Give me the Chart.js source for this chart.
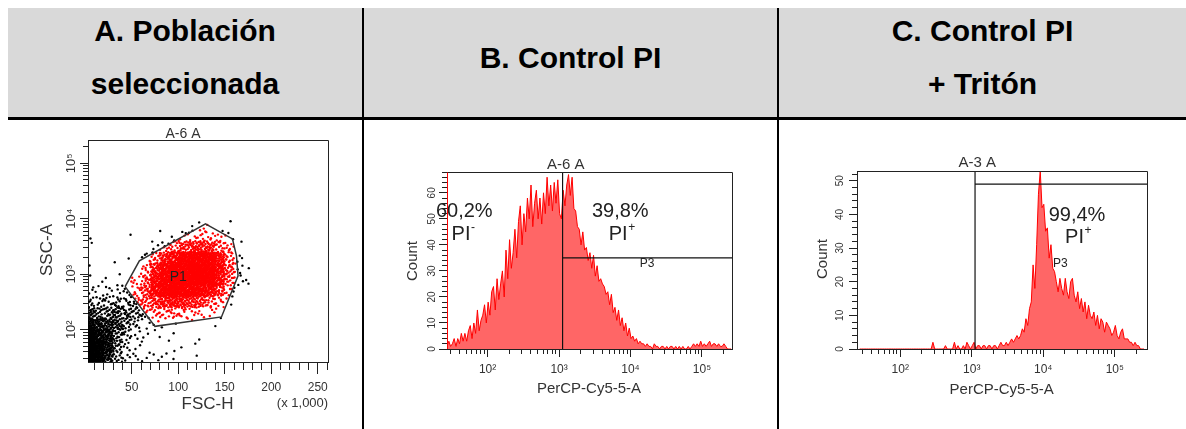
<!DOCTYPE html>
<html lang="es">
<head>
<meta charset="utf-8">
<title>Población seleccionada y control PI</title>
<script src="https://cdn.jsdelivr.net/npm/chart.js"></script>
<style>
  body { margin: 0; background: #fff; font-family: "Liberation Sans", Arial, sans-serif; }
  #page { position: relative; width: 1186px; height: 429px; overflow: hidden; }
  .head { position: absolute; left: 8px; top: 8px; width: 1178px; height: 109px; background: #d9d9d9; }
  .rule { position: absolute; left: 8px; top: 117px; width: 1178px; height: 3px; background: #000; }
  .sep { position: absolute; top: 8px; width: 2px; height: 421px; background: #000; }
  .cap { position: absolute; font-weight: bold; font-size: 30px; line-height: 53px; text-align: center; color: #000; }
  canvas { position: absolute; }
</style>
</head>
<body>
<div id="page">
  <div class="head"></div>
  <div class="rule"></div>
  <div class="sep" style="left:362px"></div>
  <div class="sep" style="left:777px"></div>
  <div class="cap" style="left:8px;width:354px;top:4px">A. Población<br>seleccionada</div>
  <div class="cap" style="left:364px;width:413px;top:31px">B. Control PI</div>
  <div class="cap" style="left:779px;width:407px;top:4px">C. Control PI<br>+ Tritón</div>
  <canvas id="dotPlot" width="310" height="300" style="left:30px;top:122px"></canvas>
  <canvas id="histB" width="345" height="250" style="left:400px;top:150px"></canvas>
  <canvas id="histC" width="350" height="250" style="left:810px;top:150px"></canvas>
</div>
<script>
const FONT = '"Liberation Sans", Arial, Helvetica, sans-serif';
Chart.defaults.font.family = FONT;

// axis labels
const decades = [2, 3, 4, 5];
const fscLabels = [50, 100, 150, 200, 250];
const countLabelsB = [0, 10, 20, 30, 40, 50, 60];
const countLabelsC = [0, 10, 20, 30, 40, 50];

// dot plot: events counted per cell, FSC-H columns (x1000) by SSC-A rows (log10 lower edge)
const fscBins = [0, 10, 20, 30, 40, 50, 60, 70, 80, 90, 100, 110, 120, 130, 140, 150, 160, 170];
const sscRows = [3.8, 3.6, 3.4, 3.2, 3.0, 2.8, 2.6, 2.4, 2.2, 2.0, 1.8, 1.6, 1.4];
const eventGrid = [
  [0, 0, 0, 0, 0, 0, 0, 0, 0, 0, 0, 1, 2, 1, 0, 1, 0, 0],
  [1, 0, 0, 0, 1, 0, 0, 0, 1, 2, 4, 6, 7, 6, 4, 3, 0, 0],
  [1, 0, 0, 0, 0, 0, 0, 3, 7, 13, 20, 25, 26, 22, 14, 7, 1, 0],
  [0, 0, 0, 1, 1, 0, 4, 12, 30, 45, 60, 66, 64, 56, 36, 14, 3, 0],
  [1, 0, 0, 0, 0, 0, 9, 30, 55, 75, 85, 88, 82, 68, 42, 17, 5, 1],
  [1, 1, 1, 2, 1, 5, 15, 40, 65, 82, 88, 85, 76, 62, 40, 15, 4, 2],
  [3, 3, 4, 4, 4, 8, 20, 42, 60, 72, 72, 64, 52, 40, 22, 7, 1, 0],
  [8, 7, 9, 10, 9, 12, 15, 22, 30, 34, 30, 25, 19, 14, 7, 2, 0, 0],
  [18, 15, 17, 19, 16, 12, 8, 8, 10, 10, 8, 6, 4, 3, 2, 0, 0, 0],
  [36, 33, 30, 22, 14, 6, 3, 2, 1, 1, 0, 1, 0, 1, 0, 0, 0, 0],
  [66, 55, 38, 18, 8, 3, 2, 1, 2, 1, 0, 0, 1, 0, 0, 0, 0, 0],
  [95, 72, 40, 15, 5, 2, 1, 0, 0, 1, 1, 1, 0, 0, 0, 0, 0, 0],
  [90, 66, 30, 10, 4, 3, 3, 2, 2, 1, 0, 1, 0, 0, 0, 0, 0, 0]
];
// P1 gate vertices
const gateFsc = [42.9, 58.2, 129.3, 158.3, 162.6, 164.3, 146.5, 75.0];
const gateSsc = [597, 1746, 8110, 4330, 2150, 933, 170, 115];

// histograms: counts in 0.025-decade bins starting at 10^1.42
const binStart = 1.42, binStep = 0.025;
const countsB = [
  1, 3, 1, 2, 4, 1, 4, 2, 6, 3,
  6, 3, 7, 9, 4, 10, 6, 15, 7, 11,
  13, 17, 10, 18, 13, 22, 24, 15, 27, 19,
  25, 30, 20, 38, 27, 42, 31, 37, 46, 35,
  49, 55, 40, 52, 45, 58, 50, 63, 47, 56,
  61, 50, 58, 48, 60, 52, 66, 55, 63, 53,
  64, 56, 65, 52, 50, 61, 55, 63, 67, 59,
  66, 54, 53, 47, 46, 40, 45, 38, 39, 34,
  37, 31, 36, 28, 32, 26, 27, 25, 24, 21,
  22, 17, 21, 14, 16, 11, 15, 9, 12, 7,
  10, 5, 8, 4, 5, 3, 4, 2, 3, 2,
  2, 1, 2, 1, 1, 0, 2, 1, 1, 0,
  1, 1, 0, 1, 0, 1, 1, 0, 1, 0,
  1, 0, 1, 0, 0, 1, 0, 1, 2, 1,
  2, 1, 3, 1, 2, 1, 2, 3, 1, 2,
  2, 1, 2, 1, 1, 2, 1, 0, 0, 0
];
const countsC = [
  0, 0, 0, 0, 0, 0, 0, 0, 0, 0,
  0, 0, 0, 0, 0, 0, 0, 0, 0, 0,
  0, 0, 0, 0, 0, 0, 0, 0, 0, 0,
  0, 0, 0, 0, 0, 0, 0, 0, 0, 0,
  0, 2, 0, 0, 0, 0, 0, 0, 1, 0,
  0, 0, 0, 2, 0, 1, 0, 0, 1, 0,
  2, 1, 0, 1, 2, 0, 1, 1, 0, 1,
  1, 0, 1, 1, 0, 1, 1, 0, 1, 2,
  1, 1, 2, 1, 2, 3, 2, 3, 4, 3,
  4, 6, 5, 9, 7, 12, 14, 25, 18, 31,
  46, 53, 42, 43, 35, 36, 27, 31, 24, 23,
  20, 17, 21, 18, 16, 21, 17, 15, 20, 21,
  16, 14, 17, 12, 15, 11, 14, 9, 13, 10,
  9, 11, 7, 10, 6, 9, 8, 5, 8, 7,
  6, 4, 5, 7, 4, 3, 5, 6, 3, 3,
  3, 2, 2, 1, 2, 1, 1, 0, 0, 0
];
const gateB = [1120, 35];   // marker position, P3 level
const gateC = [1112, 49];
const p3LabelB = [17100, 32.7];
const p3LabelC = [17300, 25.5];
const percentB = [60.2, 39.8];
const percentC = [99.4];

const SUP = { 2: '\u00b2', 3: '\u00b3', 4: '\u2074', 5: '\u2075' };
const INK = '#222';

function logTicks(min, max) {
  const out = [];
  for (let e = 1; e <= 5; e++) {
    for (let m = 1; m <= 9; m++) {
      const v = m * Math.pow(10, e);
      if (v >= min && v <= max) out.push({ value: v });
    }
  }
  return out;
}
function decadeLabel(v) {
  const e = Math.round(Math.log10(v));
  return Math.abs(v - Math.pow(10, e)) < 1e-6 * v && SUP[e] ? '10' + SUP[e] : '';
}
function crisp(p) { return Math.round(p - 0.5) + 0.5; }
function line(ctx, x1, y1, x2, y2) { ctx.beginPath(); ctx.moveTo(x1, y1); ctx.lineTo(x2, y2); ctx.stroke(); }
function rotText(ctx, text, x, y) {
  ctx.save(); ctx.translate(x, y); ctx.rotate(-Math.PI / 2); ctx.fillText(text, 0, 0); ctx.restore();
}
function supText(ctx, base, sup, cx, cy, size, supSize, rise) {
  ctx.font = size + 'px ' + FONT; const wb = ctx.measureText(base).width;
  ctx.font = supSize + 'px ' + FONT; const ws = ctx.measureText(sup).width;
  const x0 = cx - (wb + ws) / 2;
  ctx.textAlign = 'left';
  ctx.font = size + 'px ' + FONT; ctx.fillText(base, x0, cy);
  ctx.font = supSize + 'px ' + FONT; ctx.fillText(sup, x0 + wb + 0.5, cy - rise);
  ctx.textAlign = 'center';
}
function pct(v) { return v.toFixed(1).replace('.', ',') + '%'; }
function topRight(ctx, a) {
  const l = crisp(a.left), r = crisp(a.right), t = crisp(a.top), b = crisp(a.bottom);
  ctx.beginPath(); ctx.moveTo(l, t); ctx.lineTo(r, t); ctx.lineTo(r, b); ctx.stroke();
}

// ---------- A: FSC-H vs SSC-A dot plot ----------
const fscMin = 3, fscMax = 261, sscMin = 26.2, sscMax = 262144;
const gateLog = gateSsc.map(v => Math.log10(v));

function inGate(x, ly) {
  let inside = false;
  for (let i = 0, j = gateFsc.length - 1; i < gateFsc.length; j = i++) {
    const xi = gateFsc[i], yi = gateLog[i], xj = gateFsc[j], yj = gateLog[j];
    if ((yi > ly) !== (yj > ly) && x < (xj - xi) * (ly - yi) / (yj - yi) + xi) inside = !inside;
  }
  return inside;
}
// spread a cell's events evenly over the cell (Halton sequence)
function halton(i, b) {
  let f = 1, r = 0;
  while (i > 0) { f /= b; r += f * (i % b); i = Math.floor(i / b); }
  return r;
}
const p1Events = [], otherEvents = [];
let seq = 1;
eventGrid.forEach((row, r) => row.forEach((n, c) => {
  const x0 = Math.max(fscBins[c], fscMin), x1 = fscBins[c] + 10;
  const l0 = Math.max(sscRows[r], Math.log10(sscMin)), l1 = sscRows[r] + 0.2;
  for (let k = 0; k < n; k++, seq++) {
    const x = x0 + halton(seq, 2) * (x1 - x0);
    const ly = l0 + halton(seq, 3) * (l1 - l0);
    (inGate(x, ly) ? p1Events : otherEvents).push({ x, y: Math.pow(10, ly) });
  }
}));
const gatePath = gateFsc.map((x, i) => ({ x, y: gateSsc[i] }));
gatePath.push(gatePath[0]);

const dotDecor = {
  id: 'dotDecor',
  afterDraw(chart) {
    const { ctx, chartArea: a, scales: { x, y } } = chart;
    ctx.save();
    ctx.strokeStyle = INK; ctx.lineWidth = 1;
    topRight(ctx, a);
    fscLabels.forEach(v => { const p = crisp(x.getPixelForValue(v)); line(ctx, p, a.bottom + 8, p, a.bottom + 12); });
    decades.forEach(d => { const p = crisp(y.getPixelForValue(Math.pow(10, d))); line(ctx, a.left - 5, p, a.left - 8, p); });
    ctx.fillStyle = '#333';
    ctx.textAlign = 'center'; ctx.textBaseline = 'middle';
    ctx.font = '14px ' + FONT; ctx.fillText('A-6 A', 153, 12);
    ctx.font = '17px ' + FONT; ctx.fillText('FSC-H', 177.5, 282);
    rotText(ctx, 'SSC-A', 17.5, 128);
    ctx.font = '13px ' + FONT; ctx.fillText('(x 1,000)', 272.5, 281);
    ctx.fillStyle = INK;
    ctx.font = '14px ' + FONT; ctx.fillText('P1', x.getPixelForValue(100), y.getPixelForValue(900));
    ctx.fillStyle = '#333';
    ctx.font = '13px ' + FONT; ctx.textBaseline = 'alphabetic';
    decades.forEach(d => rotText(ctx, '10' + SUP[d], 45, y.getPixelForValue(Math.pow(10, d))));
    ctx.restore();
  }
};

new Chart(document.getElementById('dotPlot'), {
  type: 'scatter',
  data: {
    datasets: [
      { data: gatePath, showLine: true, borderColor: '#333', borderWidth: 1.5, pointRadius: 0, order: 0 },
      { data: p1Events, backgroundColor: '#ff0000', pointRadius: 1.2, borderWidth: 0, order: 1 },
      { data: otherEvents, backgroundColor: '#000000', pointRadius: 1.2, borderWidth: 0, order: 2 }
    ]
  },
  options: {
    responsive: false, animation: false, events: [],
    layout: { padding: { top: 18, right: 12, left: 0, bottom: 0 } },
    plugins: { legend: { display: false }, tooltip: { enabled: false } },
    scales: {
      x: {
        type: 'linear', min: fscMin, max: fscMax,
        afterBuildTicks: s => { const t = []; for (let v = 10; v <= s.max; v += 10) t.push({ value: v }); s.ticks = t; },
        afterFit: s => { s.height = 60; },
        grid: { drawOnChartArea: false, tickLength: 8, color: INK },
        border: { color: INK },
        ticks: { autoSkip: false, maxRotation: 0, padding: 10, color: '#333', font: { size: 12 },
          callback: v => fscLabels.includes(v) ? String(v) : '' }
      },
      y: {
        type: 'logarithmic', min: sscMin, max: sscMax,
        afterBuildTicks: s => { s.ticks = logTicks(s.min, s.max); },
        afterFit: s => { s.width = 58; },
        grid: { drawOnChartArea: false, tickLength: 5, color: INK },
        border: { color: INK },
        ticks: { display: false }
      }
    }
  },
  plugins: [dotDecor]
});

// ---------- B and C: PerCP-Cy5-5-A histograms ----------
function histChart(id, counts, cfg) {
  const bins = counts.map((n, i) => ({ x: Math.pow(10, binStart + (i + 0.5) * binStep), y: n }));
  const datasets = [
    { data: [{ x: cfg.gate[0], y: 0 }, { x: cfg.gate[0], y: cfg.yMax }], borderColor: '#111', borderWidth: 1.2, pointRadius: 0, order: 0 },
    { data: [{ x: cfg.gate[0], y: cfg.gate[1] }, { x: cfg.xMax, y: cfg.gate[1] }], borderColor: '#111', borderWidth: 1.2, pointRadius: 0, order: 0 },
    { data: bins, borderColor: '#ff0000', borderWidth: 1, backgroundColor: '#ff6666', fill: 'origin', pointRadius: 0, tension: 0, order: 1 }
  ];
  if (cfg.leftMarker) {
    datasets.push({ data: [{ x: cfg.xMin, y: 0 }, { x: cfg.xMin, y: cfg.yMax }], borderColor: '#ff0000', borderWidth: 2, pointRadius: 0, order: 0 });
  }
  const decor = {
    id: 'histDecor',
    afterDraw(chart) {
      const { ctx, chartArea: a, scales: { x, y } } = chart;
      ctx.save();
      ctx.strokeStyle = INK; ctx.lineWidth = 1;
      topRight(ctx, a);
      decades.forEach(d => { const p = crisp(x.getPixelForValue(Math.pow(10, d))); line(ctx, p, a.bottom + 5, p, a.bottom + 8); });
      cfg.countLabels.forEach(c => { const p = crisp(y.getPixelForValue(c)); line(ctx, a.left - 5, p, a.left - 8, p); });
      ctx.fillStyle = '#333';
      ctx.textAlign = 'center'; ctx.textBaseline = 'middle';
      ctx.font = '15px ' + FONT;
      ctx.fillText(cfg.title, cfg.titleAt[0], cfg.titleAt[1]);
      ctx.fillText('PerCP-Cy5-5-A', cfg.xTitleAt[0], cfg.xTitleAt[1]);
      rotText(ctx, 'Count', cfg.yTitleAt[0], cfg.yTitleAt[1]);
      ctx.font = '10px ' + FONT; ctx.textBaseline = 'alphabetic';
      cfg.countLabels.forEach(c => rotText(ctx, String(c), cfg.yLabelX, y.getPixelForValue(c)));
      ctx.textBaseline = 'middle';
      ctx.fillStyle = INK;
      ctx.font = '12px ' + FONT;
      ctx.fillText('P3', x.getPixelForValue(cfg.p3Label[0]), y.getPixelForValue(cfg.p3Label[1]));
      cfg.stats.forEach(s => {
        ctx.font = '20px ' + FONT;
        ctx.fillText(pct(s.value), s.at[0], s.at[1]);
        supText(ctx, 'PI', s.sign, s.piAt[0], s.piAt[1], 20, 12, 7);
      });
      ctx.restore();
    }
  };
  return new Chart(document.getElementById(id), {
    type: 'line',
    data: { datasets },
    options: {
      responsive: false, animation: false, events: [],
      layout: { padding: { top: cfg.padTop, right: cfg.padRight, left: 0, bottom: 0 } },
      plugins: { legend: { display: false }, tooltip: { enabled: false } },
      scales: {
        x: {
          type: 'logarithmic', min: cfg.xMin, max: cfg.xMax,
          afterBuildTicks: s => { s.ticks = logTicks(s.min, s.max); },
          afterFit: s => { s.height = 51; },
          grid: { drawOnChartArea: false, tickLength: 5, color: INK },
          border: { color: INK, z: 1 },
          ticks: { autoSkip: false, maxRotation: 0, padding: 8, color: '#333', font: { size: 12 }, callback: v => decadeLabel(v) }
        },
        y: {
          type: 'linear', min: 0, max: cfg.yMax,
          afterBuildTicks: s => { const t = []; for (let v = 0; v <= s.max; v += 2) t.push({ value: v }); s.ticks = t; },
          afterFit: s => { s.width = 47; },
          grid: { drawOnChartArea: false, tickLength: 5, color: INK },
          border: { color: INK },
          ticks: { display: false }
        }
      }
    },
    plugins: [decor]
  });
}

histChart('histB', countsB, {
  xMin: Math.pow(10, 1.432), xMax: Math.pow(10, 5.42), yMax: 68,
  padTop: 22, padRight: 13, gate: gateB, leftMarker: true,
  countLabels: countLabelsB, yLabelX: 35, p3Label: p3LabelB,
  title: 'A-6 A', titleAt: [165.7, 15], xTitleAt: [189, 238.7], yTitleAt: [13, 111],
  stats: [
    { value: percentB[0], sign: '-', at: [64.3, 61.7], piAt: [63, 84.5] },
    { value: percentB[1], sign: '+', at: [220.3, 61.7], piAt: [221.7, 84.5] }
  ]
});

histChart('histC', countsC, {
  xMin: Math.pow(10, 1.396), xMax: Math.pow(10, 5.45), yMax: 52.9,
  padTop: 21, padRight: 13, gate: gateC, leftMarker: false,
  countLabels: countLabelsC, yLabelX: 33.3, p3Label: p3LabelC,
  title: 'A-3 A', titleAt: [167.3, 13], xTitleAt: [191.7, 240], yTitleAt: [13, 109],
  stats: [
    { value: percentC[0], sign: '+', at: [267, 65.3], piAt: [268, 87.5] }
  ]
});
</script>
</body>
</html>
